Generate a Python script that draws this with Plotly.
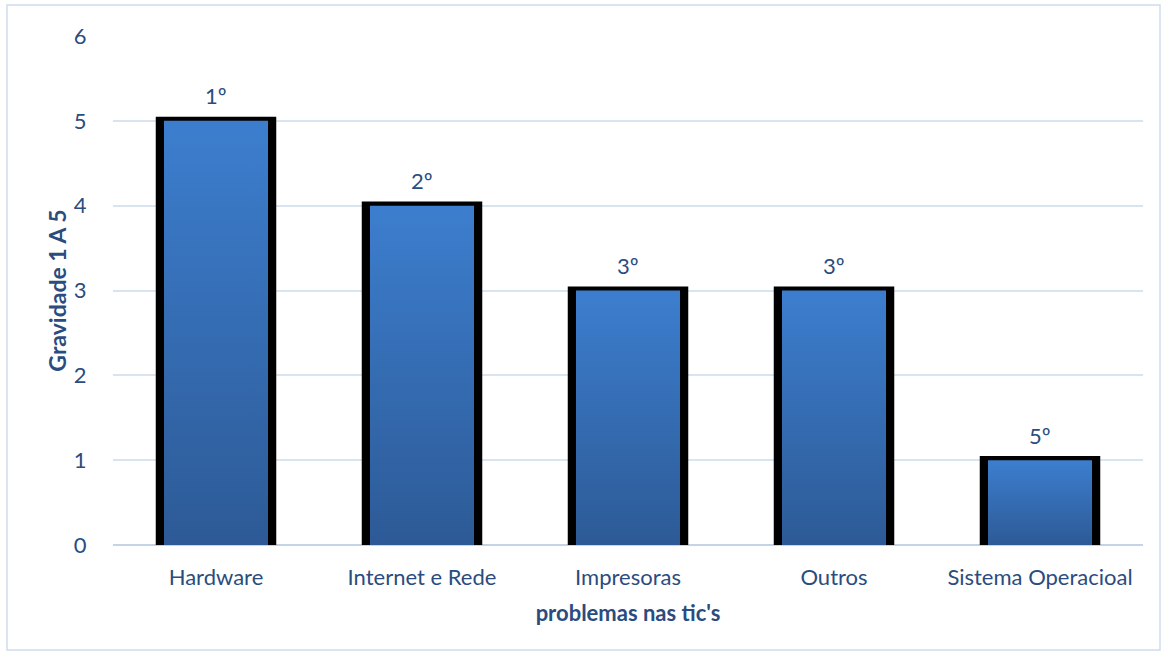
import plotly.graph_objects as go

categories = ["Hardware", "Internet e Rede", "Impresoras", "Outros", "Sistema Operacioal"]
values = [5, 4, 3, 3, 1]
rank_labels = ["1º", "2º", "3º", "3º", "5º"]
y_ticks = [0, 1, 2, 3, 4, 5, 6]

TEXT = "#2B4C7E"
FONT = "Lato"
INNER_W = 0.505   # gradient body width (category units)
OUTER_W = 0.585   # black frame width
TOP_EXT = 0.048   # black frame above the bar top (value units)

fig = go.Figure()
for i, v in enumerate(values):
    o0, o1 = i - OUTER_W / 2, i + OUTER_W / 2
    fig.add_trace(go.Scatter(
        x=[o0, o0, o1, o1, o0], y=[0, v + TOP_EXT, v + TOP_EXT, 0, 0],
        mode="lines", fill="toself", fillcolor="black",
        line=dict(color="black", width=0),
        hoverinfo="skip", showlegend=False,
    ))
    x0, x1 = i - INNER_W / 2, i + INNER_W / 2
    fig.add_trace(go.Scatter(
        x=[x0, x0, x1, x1, x0], y=[0, v, v, 0, 0],
        mode="lines", fill="toself",
        line=dict(color="rgba(0,0,0,0)", width=0),
        fillgradient=dict(type="vertical",
                          colorscale=[[0, "#2D5A96"], [1, "#3C7ECE"]]),
        hoverinfo="skip", showlegend=False,
    ))
    fig.add_annotation(x=i, y=v, text=rank_labels[i], showarrow=False,
                       yanchor="middle", yshift=25,
                       font=dict(family=FONT, size=22, color=TEXT))

fig.add_shape(type="rect", xref="paper", yref="paper",
              x0=-0.1029, x1=1.0165, y0=-0.2063, y1=1.0609,
              line=dict(color="#D0DDEE", width=1.5), layer="below")

fig.update_layout(
    width=1167, height=655,
    margin=dict(l=113, r=24, t=36, b=110),
    paper_bgcolor="white", plot_bgcolor="white",
    font=dict(family=FONT, color=TEXT),
    xaxis=dict(
        range=[-0.5, len(categories) - 0.5],
        tickvals=list(range(len(categories))), ticktext=categories,
        tickfont=dict(size=22, color=TEXT),
        showgrid=False, zeroline=False, showline=False,
        ticks="outside", ticklen=13, tickcolor="rgba(0,0,0,0)",
        title=dict(text="<b>problemas nas tic's</b>", font=dict(size=22, color=TEXT), standoff=16),
    ),
    yaxis=dict(
        range=[0, 6], tickvals=y_ticks,
        tickfont=dict(size=22, color=TEXT),
        showgrid=True, gridcolor="#D9E4F1", gridwidth=1.5,
        zeroline=True, zerolinecolor="#C5D3E6", zerolinewidth=1.5,
        showline=False,
        ticks="outside", ticklen=21, tickcolor="rgba(0,0,0,0)",
        title=dict(text="<b>Gravidade 1 A 5</b>", font=dict(size=23, color=TEXT), standoff=0),
    ),
)

fig.write_html("out.html")
